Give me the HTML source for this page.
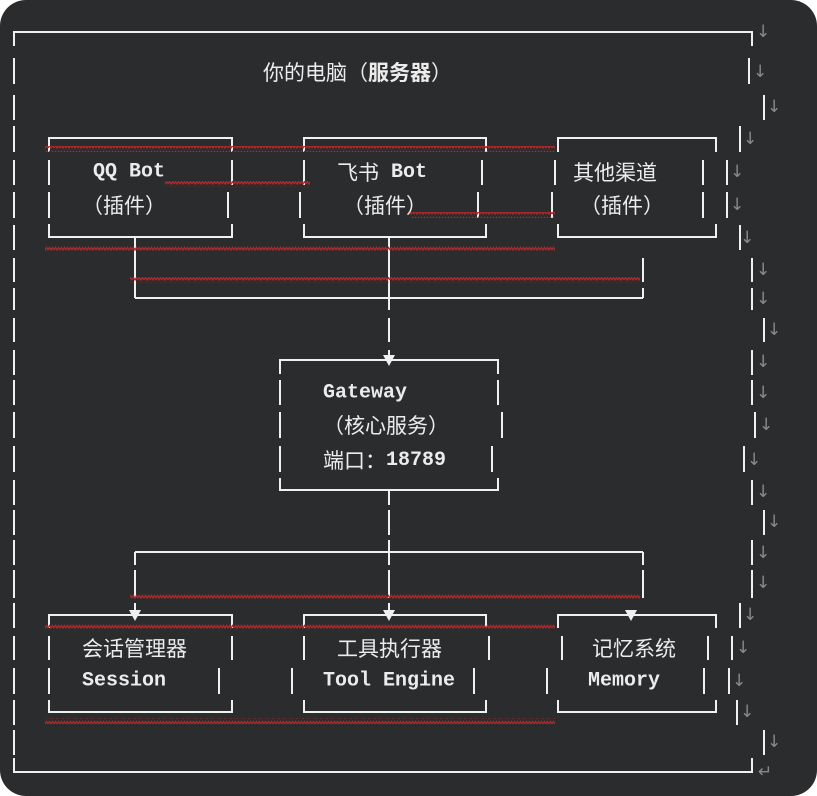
<!DOCTYPE html>
<html><head><meta charset="utf-8"><style>
html,body{margin:0;padding:0;background:#fff;}
svg{display:block;}
.t{font-family:"Liberation Mono","Noto Sans CJK SC",monospace;font-size:20px;fill:#ececec;dominant-baseline:central;}
.c{font-family:"Noto Sans CJK SC",sans-serif;font-size:21px;}
.a{font-family:"DejaVu Sans",sans-serif;font-size:17px;fill:#8a8a8a;dominant-baseline:central;}
</style></head><body>
<svg width="817" height="796" xmlns="http://www.w3.org/2000/svg">
<defs>
<pattern id="w" width="6" height="6" patternUnits="userSpaceOnUse">
<polyline points="0,4 1.5,1.5 3,4 4.5,1.5 6,4" fill="none" stroke="#b0282a" stroke-width="1.3"/>
</pattern>
</defs>
<rect x="0" y="0" width="817" height="796" rx="26" fill="#2b2c2e"/>
<g stroke="#f0f0f0" stroke-width="2" fill="none">
<path d="M14,46 V32 H752 V46"/>
<path d="M14,58V84 M14,95V120 M14,126V152 M14,160V185 M14,192V218 M14,225V250 M14,258V282 M14,288V310 M14,318V342 M14,350V375 M14,380V405 M14,412V438 M14,446V472 M14,480V505 M14,510V535 M14,540V565 M14,570V598 M14,603V628 M14,636V660 M14,668V694 M14,700V725 M14,730V755 M14,758V772 H752 V758"/>
<path d="M749,58V84 M764,95V120 M740,126V152 M727,160V185 M727,192V218 M740,225V250 M752,258V282 M752,288V310 M764,318V342 M752,350V375 M752,380V405 M755,412V438 M744,446V472 M752,480V505 M764,510V535 M752,540V565 M752,570V598 M740,603V628 M732,636V660 M729,668V694 M737,700V725 M764,730V755"/>
<path d="M49,152V138H232V152 M49,160V185 M49,192V218 M232,160V185 M228,192V218 M49,224V237H232V224"/>
<path d="M304,152V138H486V152 M304,160V185 M300,192V218 M482,160V185 M478,192V218 M304,224V237H486V224"/>
<path d="M558,152V138H716V152 M555,160V185 M552,192V218 M703,160V185 M703,192V218 M558,224V237H716V224"/>
<path d="M135,237V298 M389,237V298 M643,258V282 M643,288V298 M135,298H643"/>
<path d="M389,298V310 M389,318V342 M389,350V356"/>
<path d="M280,374V360H498V374 M280,380V405 M280,412V438 M280,446V472 M498,380V405 M502,412V438 M492,446V472 M280,478V490H498V478"/>
<path d="M389,490V505 M389,510V535 M389,540V565 M389,570V598 M389,603V612"/>
<path d="M135,552H643 M135,552V565 M135,570V598 M135,603V610 M643,552V565 M643,570V598"/>
<path d="M49,628V615H232V628 M49,636V660 M49,668V694 M232,636V660 M219,668V694 M49,700V712H232V700"/>
<path d="M304,628V615H486V628 M304,636V660 M292,668V694 M489,636V660 M474,668V694 M304,700V712H486V700"/>
<path d="M558,628V615H716V628 M562,636V660 M547,668V694 M708,636V660 M704,668V694 M558,700V712H716V700"/>
</g>
<g fill="#f0f0f0">
<polygon points="383,355 395,355 389,366"/>
<polygon points="129,610 141,610 135,621"/>
<polygon points="383,610 395,610 389,621"/>
<polygon points="625,610 637,610 631,621"/>
</g>
<g fill="url(#w)">
<rect x="45" y="146" width="510" height="6"/>
<rect x="165" y="181" width="145" height="6"/>
<rect x="410" y="212" width="145" height="6"/>
<rect x="45" y="245" width="510" height="6"/>
<rect x="130" y="277" width="510" height="6"/>
<rect x="130" y="593" width="510" height="6"/>
<rect x="45" y="623" width="510" height="6"/>
<rect x="45" y="718" width="510" height="6"/>
</g>
<text class="t c" x="263" y="72">你的电脑（<tspan font-weight="bold">服务器</tspan>）</text>
<text class="t" x="93" y="172" font-weight="bold">QQ Bot</text>
<text class="t c" x="82" y="205">（插件）</text>
<text class="t" x="337" y="172"><tspan class="c">飞书</tspan> <tspan font-weight="bold">Bot</tspan></text>
<text class="t c" x="343" y="205">（插件）</text>
<text class="t c" x="573" y="172">其他渠道</text>
<text class="t c" x="580" y="205">（插件）</text>
<text class="t" x="323" y="393" font-weight="bold">Gateway</text>
<text class="t c" x="323" y="425">（核心服务）</text>
<text class="t" x="323" y="460"><tspan class="c">端口：</tspan><tspan font-weight="bold">18789</tspan></text>
<text class="t c" x="82" y="648">会话管理器</text>
<text class="t" x="82" y="681" font-weight="bold">Session</text>
<text class="t c" x="337" y="648">工具执行器</text>
<text class="t" x="323" y="681" font-weight="bold">Tool Engine</text>
<text class="t c" x="592" y="648">记忆系统</text>
<text class="t" x="588" y="681" font-weight="bold">Memory</text>
<g>
<text class="a" x="756" y="32">↓</text>
<text class="a" x="753" y="72">↓</text>
<text class="a" x="767" y="107">↓</text>
<text class="a" x="743" y="139">↓</text>
<text class="a" x="730" y="172">↓</text>
<text class="a" x="730" y="205">↓</text>
<text class="a" x="740" y="238">↓</text>
<text class="a" x="756" y="270">↓</text>
<text class="a" x="756" y="299">↓</text>
<text class="a" x="767" y="330">↓</text>
<text class="a" x="756" y="362">↓</text>
<text class="a" x="756" y="393">↓</text>
<text class="a" x="759" y="425">↓</text>
<text class="a" x="747" y="460">↓</text>
<text class="a" x="756" y="492">↓</text>
<text class="a" x="767" y="522">↓</text>
<text class="a" x="756" y="553">↓</text>
<text class="a" x="756" y="583">↓</text>
<text class="a" x="743" y="615">↓</text>
<text class="a" x="736" y="648">↓</text>
<text class="a" x="732" y="681">↓</text>
<text class="a" x="740" y="712">↓</text>
<text class="a" x="767" y="742">↓</text>
<text class="a" x="758" y="772">↵</text>
</g>
</svg>
</body></html>
